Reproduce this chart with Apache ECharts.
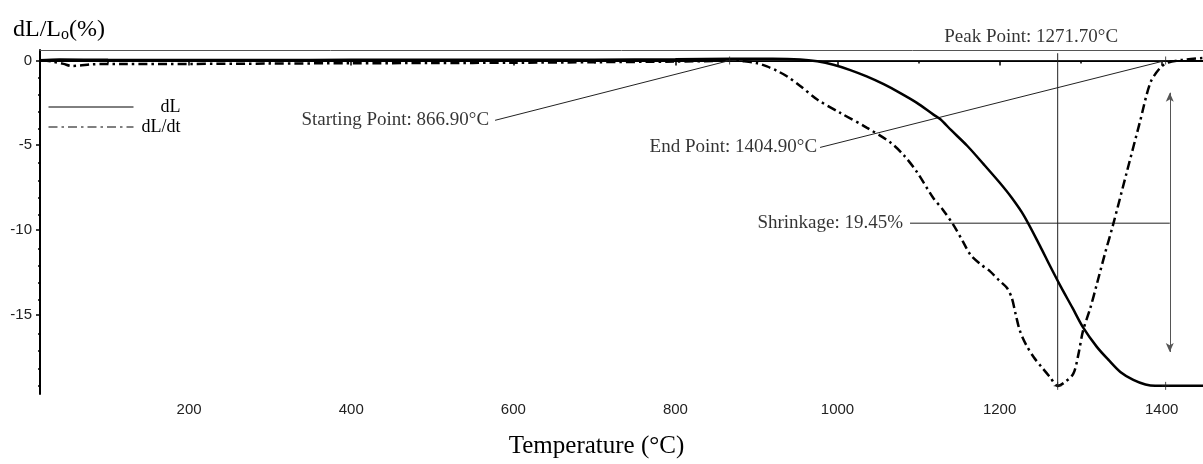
<!DOCTYPE html>
<html>
<head>
<meta charset="utf-8">
<script src="https://cdn.jsdelivr.net/npm/echarts@6/dist/echarts.min.js"></script>
<style>html,body{margin:0;padding:0;background:#fff}#c{width:1203px;height:464px}</style>
</head>
<body>
<div id="c"></div>
<script>
// ---- data ----
const dLTemp = [16, 40, 100, 200, 300, 400, 500, 600, 700, 800, 870, 920, 954, 975, 995, 1015, 1036, 1057, 1077, 1098, 1118, 1127, 1140, 1160, 1180, 1200, 1215, 1230, 1250, 1262, 1275, 1290, 1303, 1320, 1335, 1349, 1365, 1380, 1392, 1451];
const dLValues = [0.02, 0.06, 0.04, 0.03, 0.03, 0.04, 0.04, 0.05, 0.05, 0.07, 0.1, 0.1, 0.06, -0.05, -0.25, -0.55, -0.94, -1.4, -1.91, -2.5, -3.18, -3.47, -4.1, -5.03, -6.1, -7.2, -8.1, -9.15, -10.95, -12.1, -13.3, -14.6, -15.75, -16.9, -17.7, -18.38, -18.85, -19.12, -19.2, -19.2];

const dtTemp = [18, 30, 45, 55, 65, 80, 120, 200, 300, 400, 500, 600, 700, 800, 850, 867, 880, 900, 913, 925, 938, 954, 975, 1003, 1036, 1065, 1082, 1098, 1118, 1130, 1143, 1155, 1164, 1176, 1188, 1200, 1209, 1215, 1220, 1225, 1233, 1242, 1252, 1262, 1271.7, 1280, 1291, 1297, 1303, 1312, 1320, 1330, 1340, 1357, 1373, 1386, 1398, 1408, 1426, 1451];
const dtValues = [0.0, -0.05, -0.2, -0.32, -0.3, -0.22, -0.2, -0.2, -0.18, -0.16, -0.15, -0.13, -0.1, -0.06, -0.02, 0.05, -0.02, -0.15, -0.35, -0.6, -0.94, -1.5, -2.3, -3.08, -3.96, -4.83, -5.6, -6.58, -8.1, -8.8, -9.7, -10.7, -11.46, -12.0, -12.43, -13.0, -13.41, -14.0, -15.0, -15.94, -16.8, -17.5, -18.1, -18.67, -19.2, -19.0, -18.48, -17.4, -15.94, -14.6, -13.2, -11.4, -9.7, -6.58, -3.66, -1.32, -0.44, -0.12, 0.04, 0.15];

const seriesNames = ['dL', 'dL/dt'];
const xTickLabels = [200, 400, 600, 800, 1000, 1200, 1400];
const xMinorTicks = [100, 300, 500, 700, 900, 1100, 1300];
const yTickLabels = [0, -5, -10, -15];
const yMinorTicks = [-1, -2, -3, -4, -6, -7, -8, -9, -11, -12, -13, -14, -16, -17, -18, -19];

// annotation values (data coordinates)
const startPoint = [866.9, 0];
const endPoint = [1404.9, 0];
const peakPoint = [1271.7, -19.2];
const endBottom = [1404.9, -19.2];
const startLeader = [[577.5, -3.53], startPoint];
const endLeader = [[978.5, -5.13], endPoint];
const baseLine = [startPoint, endPoint];
const shrinkLine = [[1089.5, -9.6], [1410, -9.6]];
const peakLine = [[1271.7, 0.43], [1271.7, -19.3]];
const shrinkArrow = [[1410, -1.9], [1410, -17.2]];
const noteTexts = ['Starting Point: 866.90\u00B0C', 'End Point: 1404.90\u00B0C', 'Shrinkage: 19.45%', 'Peak Point: 1271.70\u00B0C'];
const noteAnchors = [[577.5, -3.53], [978.5, -5.13], [1089.5, -9.6], [1239, 0.62]];

const X_MIN = 16, X_MAX = 1451, Y_MIN = -19.68, Y_MAX = 0.62;

const zip = (a, b) => a.map((v, i) => [v, b[i]]);
const SERIF = '"Liberation Serif", "Times New Roman", serif';
const SANS = '"Liberation Sans", Arial, sans-serif';

const thin = { color: '#222', width: 1 };
function annoLine(name, pts, extra) {
  return Object.assign({
    name: name, type: 'line', data: pts, symbol: 'none', silent: true,
    lineStyle: thin, z: 3, animation: false
  }, extra || {});
}

const notePositions = ['left', 'left', 'left', 'top'];
const noteDistances = [6, 3, 7, 3];

const option = {
  animation: false,
  backgroundColor: '#fff',
  title: {
    text: '{a|dL/L}{b|o}{a|(%)}',
    left: 8, top: 10,
    textStyle: {
      fontWeight: 'normal',
      rich: {
        a: { fontFamily: SERIF, fontSize: 24, fontWeight: 'normal', color: '#000', lineHeight: 30 },
        b: { fontFamily: SERIF, fontSize: 16, fontWeight: 'normal', color: '#000', lineHeight: 30, verticalAlign: 'bottom', padding: [0, 0, 2, 0] }
      }
    }
  },
  legend: {
    data: seriesNames,
    orient: 'vertical',
    left: 43, top: 93,
    itemWidth: 85, itemHeight: 12, itemGap: 2,
    lineStyle: { width: 1, color: '#000' },
    itemStyle: { opacity: 0 },
    formatter: n => '{t|' + n + '}',
    textStyle: { rich: { t: { width: 42, align: 'right', fontFamily: SERIF, fontSize: 18, color: '#000', lineHeight: 20 } } }
  },
  grid: [
    { left: 40, top: 50, right: 0, bottom: 67, containLabel: false },
    { left: 40, top: 50, right: 0, bottom: 67, containLabel: false }
  ],
  xAxis: [
    {
      type: 'value', gridIndex: 0, position: 'bottom', min: X_MIN, max: X_MAX,
      name: 'Temperature (\u00B0C)', nameLocation: 'middle', nameGap: 40,
      nameTextStyle: { fontFamily: SERIF, fontSize: 25, color: '#000', padding: [0, 50, 0, 0] },
      axisLine: { show: true, lineStyle: { color: '#000', width: 2 } },
      axisTick: { show: true, customValues: xTickLabels, length: 5, lineStyle: { color: '#000', width: 1.5 } },
      axisLabel: { customValues: xTickLabels, formatter: v => String(v), fontFamily: SANS, fontSize: 15, color: '#222', margin: 8 },
      splitLine: { show: false }
    },
    {
      type: 'value', gridIndex: 0, position: 'top', min: X_MIN, max: X_MAX,
      axisLine: { show: true, lineStyle: { color: '#555', width: 1 } },
      axisTick: { show: false }, axisLabel: { show: false }, splitLine: { show: false }
    },
    {
      type: 'value', gridIndex: 1, position: 'bottom', min: X_MIN, max: X_MAX,
      axisLine: { show: false },
      axisTick: { show: true, customValues: xMinorTicks, length: 3, lineStyle: { color: '#000', width: 1.5 } },
      axisLabel: { show: false }, splitLine: { show: false }
    }
  ],
  yAxis: [
    {
      type: 'value', gridIndex: 0, min: Y_MIN, max: Y_MAX,
      axisLine: { show: true, lineStyle: { color: '#000', width: 2 } },
      axisTick: { show: true, customValues: yTickLabels, length: 4, lineStyle: { color: '#000', width: 1.5 } },
      axisLabel: { customValues: yTickLabels, formatter: v => String(v), fontFamily: SANS, fontSize: 15, color: '#222', margin: 8 },
      splitLine: { show: false }
    },
    {
      type: 'value', gridIndex: 1, min: Y_MIN, max: Y_MAX,
      axisLine: { show: false },
      axisTick: { show: true, customValues: yMinorTicks, length: 2, lineStyle: { color: '#000', width: 1.5 } },
      axisLabel: { show: false }, splitLine: { show: false }
    }
  ],
  series: [
    {
      name: seriesNames[0], type: 'line', data: zip(dLTemp, dLValues),
      symbol: 'none', smooth: 0.3, z: 5,
      lineStyle: { color: '#000', width: 2.5 }, itemStyle: { color: '#000' }
    },
    {
      name: seriesNames[1], type: 'line', data: zip(dtTemp, dtValues),
      symbol: 'none', smooth: 0.3, z: 5,
      lineStyle: { color: '#000', width: 2.5, type: [9, 4, 2.5, 4] }, itemStyle: { color: '#000' }
    },
    annoLine('baseline', baseLine),
    annoLine('startLeader', startLeader),
    annoLine('endLeader', endLeader),
    annoLine('peakLine', peakLine),
    annoLine('shrinkLine', shrinkLine, {
      markLine: {
        silent: true, animation: false,
        symbol: ['arrow', 'arrow'], symbolSize: [6, 9],
        label: { show: false },
        lineStyle: { color: '#555', width: 1, type: 'solid' },
        data: [[{ coord: shrinkArrow[0] }, { coord: shrinkArrow[1] }]]
      }
    }),
    {
      name: 'markers', type: 'scatter', silent: true, z: 6,
      data: [startPoint, endPoint, peakPoint, endBottom],
      symbol: 'path://M0,5L10,5M5,0L5,10', symbolSize: 8,
      itemStyle: { color: 'none', borderColor: '#222', borderWidth: 1 }
    },
    {
      name: 'notes', type: 'scatter', silent: true, clip: false, z: 7,
      symbolSize: 0,
      data: noteAnchors.map((p, i) => ({
        value: p,
        label: {
          show: true, formatter: noteTexts[i], position: notePositions[i], distance: noteDistances[i],
          fontFamily: SERIF, fontSize: 19, color: '#000'
        }
      }))
    }
  ]
};

const chart = echarts.init(document.getElementById('c'), null, { renderer: 'canvas' });
chart.setOption(option);
</script>
</body>
</html>
